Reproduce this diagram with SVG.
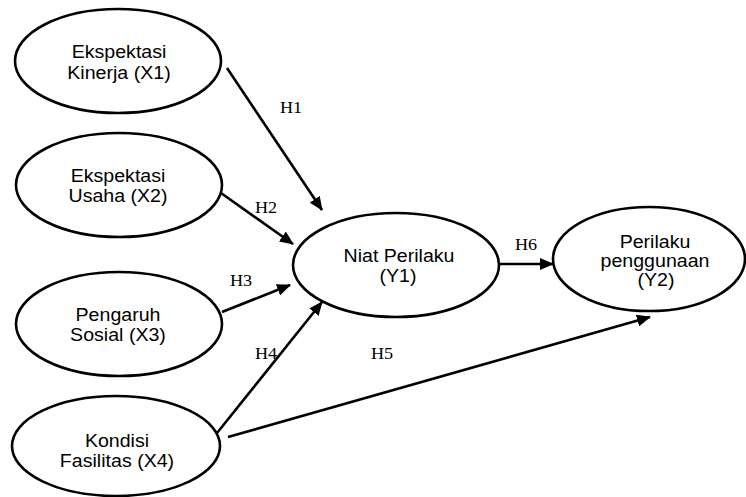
<svg xmlns="http://www.w3.org/2000/svg" width="746" height="497" viewBox="0 0 746 497">
<style>
.node{fill:#fff;stroke:#000;stroke-width:2.6}
.t{font-family:"Liberation Sans",Arial,sans-serif;font-size:17.5px;fill:#000;text-anchor:middle}
.h{font-family:"Liberation Serif","Times New Roman",serif;font-size:16.5px;fill:#000}
.c{stroke:#000;stroke-width:2.6;fill:none;marker-end:url(#ah)}
</style>
<defs>
<marker id="ah" markerUnits="userSpaceOnUse" markerWidth="14" markerHeight="12" viewBox="0 0 14 12" refX="13" refY="6" orient="auto">
<path d="M0,0 L14,6 L0,12 Z" fill="#000"/>
</marker>
</defs>
<rect width="746" height="497" fill="#fff"/>
<g id="connectors">
<line class="c" x1="227" y1="68" x2="322" y2="210"/>
<line class="c" x1="221" y1="193" x2="293" y2="244"/>
<line class="c" x1="222" y1="312" x2="290" y2="285"/>
<line class="c" x1="217" y1="433" x2="322" y2="302"/>
<line class="c" x1="228" y1="437" x2="650" y2="317"/>
<line class="c" x1="500" y1="264" x2="553" y2="264"/>
<text class="h" transform="translate(280,113) scale(1.1,1)">H1</text>
<text class="h" transform="translate(255,213) scale(1.1,1)">H2</text>
<text class="h" transform="translate(230,286) scale(1.1,1)">H3</text>
<text class="h" transform="translate(255,359) scale(1.1,1)">H4</text>
<text class="h" transform="translate(371,359) scale(1.1,1)">H5</text>
<text class="h" transform="translate(515,250) scale(1.1,1)">H6</text>
</g>
<g id="x1">
<ellipse class="node" cx="118" cy="61" rx="103" ry="52"/>
<text class="t" transform="translate(119,58) scale(1.12,1)">Ekspektasi</text>
<text class="t" transform="translate(119,79) scale(1.12,1)">Kinerja (X1)</text>
</g>
<g id="x2">
<ellipse class="node" cx="119" cy="185" rx="103" ry="52"/>
<text class="t" transform="translate(118,182) scale(1.12,1)">Ekspektasi</text>
<text class="t" transform="translate(118,202) scale(1.12,1)">Usaha (X2)</text>
</g>
<g id="x3">
<ellipse class="node" cx="119" cy="324" rx="103" ry="52"/>
<text class="t" transform="translate(118,321) scale(1.12,1)">Pengaruh</text>
<text class="t" transform="translate(118,341) scale(1.12,1)">Sosial (X3)</text>
</g>
<g id="x4">
<ellipse class="node" cx="116" cy="446" rx="104" ry="50"/>
<text class="t" transform="translate(117,447) scale(1.12,1)">Kondisi</text>
<text class="t" transform="translate(117,467) scale(1.12,1)">Fasilitas (X4)</text>
</g>
<g id="y1">
<ellipse class="node" cx="396" cy="265" rx="103" ry="52"/>
<text class="t" transform="translate(399,262) scale(1.12,1)">Niat Perilaku</text>
<text class="t" transform="translate(398,282) scale(1.12,1)">(Y1)</text>
</g>
<g id="y2">
<ellipse class="node" cx="649" cy="259" rx="96" ry="52"/>
<text class="t" transform="translate(655,248) scale(1.12,1)">Perilaku</text>
<text class="t" transform="translate(655,267) scale(1.12,1)">penggunaan</text>
<text class="t" transform="translate(656,286) scale(1.12,1)">(Y2)</text>
</g>
</svg>
